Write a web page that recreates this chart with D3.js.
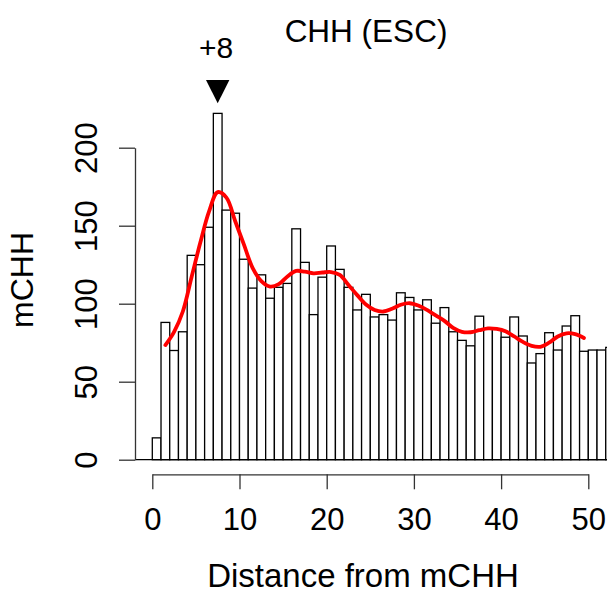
<!DOCTYPE html>
<html>
<head>
<meta charset="utf-8">
<script src="https://cdn.jsdelivr.net/npm/d3@7"></script>
<style>
  html, body { margin: 0; padding: 0; background: #fff; }
  svg { display: block; font-family: "Liberation Sans", Arial, Helvetica, sans-serif; }
</style>
</head>
<body>
<script>
// Histogram counts: distance d (bar spans [d-1, d]), d = 1..53
const distances = d3.range(1, 54);
const counts = [
  14, 88, 70, 82, 131, 125, 149, 222, 160, 158,
  128.5, 110, 118.5, 103.5, 110.5, 113, 148, 126.5, 93, 117,
  137, 122, 110.5, 96, 106, 91.5, 93, 89.5, 107, 104,
  96, 102.5, 87.5, 97.5, 82, 76.5, 73, 92, 84, 84,
  78.5, 91.5, 79.3, 62, 68, 81.4, 70.3, 85.7, 92.3, 69.5,
  70.3, 70.3, 72
];
// Smoothed curve (red), sampled at bar centres 1.5 .. 49.5
const smoothX = d3.range(1.5, 50, 1);
const smoothY = [
  73.5, 82, 95, 117, 139, 159, 171.5, 168, 153, 138,
  123, 114.5, 111, 112.5, 117.5, 121, 120.5, 119.5, 120, 120.3,
  118.5, 112, 105.5, 99.5, 96, 95, 96.8, 99.3, 100.3, 98.8,
  96, 92.5, 89, 84.5, 82, 81.7, 83, 84.2, 83.8, 82.3,
  79, 75.5, 73, 72.4, 75, 79, 81, 80.5, 78
];
const xTicks = [0, 10, 20, 30, 40, 50];
const yTicks = [0, 50, 100, 150, 200];
const peakDistance = 8;
const peakLabel = "+8";
const title = "CHH (ESC)";
const xLabel = "Distance from mCHH";
const yLabel = "mCHH";

const W = 607, H = 599;
const svg = d3.select("body").append("svg").attr("width", W).attr("height", H);

const x = d3.scaleLinear().domain([0, 50]).range([152.3, 588.3]);
const y = d3.scaleLinear().domain([0, 200]).range([459.7, 147.7]);

// bars
svg.append("g")
  .selectAll("rect")
  .data(distances.map((d, i) => ({ d, v: counts[i] })))
  .join("rect")
  .attr("x", o => x(o.d - 1))
  .attr("y", o => y(o.v))
  .attr("width", o => x(o.d) - x(o.d - 1))
  .attr("height", o => y(0) - y(o.v))
  .attr("fill", "#fff")
  .attr("stroke", "#000")
  .attr("stroke-width", 1.3);

// baseline
svg.append("line")
  .attr("x1", 135).attr("x2", W)
  .attr("y1", y(0)).attr("y2", y(0))
  .attr("stroke", "#000").attr("stroke-width", 1.3);

// smoothed line
const line = d3.line().x(d => x(d[0])).y(d => y(d[1])).curve(d3.curveCatmullRom.alpha(0.5));
svg.append("path")
  .datum(smoothX.map((v, i) => [v, smoothY[i]]))
  .attr("d", line)
  .attr("fill", "none")
  .attr("stroke", "#ff0000")
  .attr("stroke-width", 3.8)
  .attr("stroke-linecap", "round")
  .attr("stroke-linejoin", "round");

// y axis
const gy = svg.append("g")
  .attr("transform", "translate(135,0)")
  .call(d3.axisLeft(y).tickValues(yTicks).tickSize(16).tickSizeOuter(0));
gy.selectAll("path, line").attr("stroke", "#333").attr("stroke-width", 1.3);
gy.selectAll("text")
  .attr("transform", "rotate(-90)")
  .attr("x", 0).attr("y", -38).attr("dy", 0)
  .attr("text-anchor", "middle")
  .attr("fill", "#000")
  .style("font-size", "31px")
  .style("font-family", "Liberation Sans, Arial, sans-serif");

// x axis
const gx = svg.append("g")
  .attr("transform", "translate(0,474.3)")
  .call(d3.axisBottom(x).tickValues(xTicks).tickSize(15).tickSizeOuter(0));
gx.selectAll("path, line").attr("stroke", "#333").attr("stroke-width", 1.3);
gx.selectAll("text")
  .attr("y", 56).attr("dy", 0)
  .attr("fill", "#000")
  .style("font-size", "31px")
  .style("font-family", "Liberation Sans, Arial, sans-serif");

// labels
svg.append("text")
  .attr("x", 366).attr("y", 41.5)
  .attr("text-anchor", "middle")
  .style("font-size", "31.5px")
  .text(title);

svg.append("text")
  .attr("x", 363).attr("y", 587)
  .attr("text-anchor", "middle")
  .style("font-size", "33px")
  .text(xLabel);

svg.append("text")
  .attr("transform", "translate(33,280) rotate(-90)")
  .attr("text-anchor", "middle")
  .style("font-size", "32px")
  .text(yLabel);

// peak marker
const px = x(peakDistance - 0.5);
svg.append("text")
  .attr("x", px - 1.5).attr("y", 58)
  .attr("text-anchor", "middle")
  .style("font-size", "30px")
  .text(peakLabel);
svg.append("path")
  .attr("d", `M${px - 11.7},80 L${px + 11.7},80 L${px},103.3 Z`)
  .attr("fill", "#000");
</script>
</body>
</html>
